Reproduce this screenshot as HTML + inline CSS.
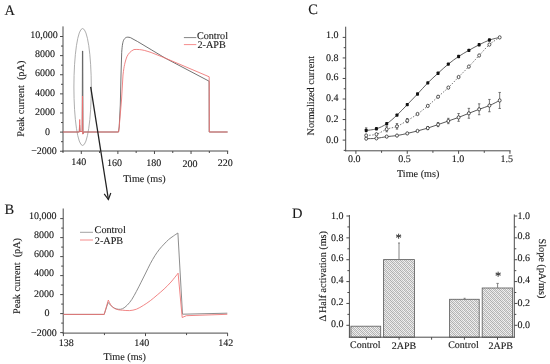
<!DOCTYPE html>
<html><head><meta charset="utf-8"><style>
html,body{margin:0;padding:0;background:#fff;}
svg{display:block;filter:blur(0.3px);}
text{font-family:"Liberation Serif", serif;fill:#1a1a1a;text-rendering:geometricPrecision;stroke:#1a1a1a;stroke-width:0.12px;}
</style></head><body>
<svg width="550" height="364" viewBox="0 0 550 364">
<rect width="550" height="364" fill="#fff"/>
<line x1="63.00" y1="26.40" x2="63.00" y2="151.50" stroke="#4a4a4a" stroke-width="1"/>
<line x1="62.50" y1="151.00" x2="228.20" y2="151.00" stroke="#4a4a4a" stroke-width="1"/>
<line x1="60.00" y1="151.22" x2="63.00" y2="151.22" stroke="#4a4a4a" stroke-width="1"/>
<line x1="61.00" y1="141.66" x2="63.00" y2="141.66" stroke="#4a4a4a" stroke-width="1"/>
<line x1="60.00" y1="132.10" x2="63.00" y2="132.10" stroke="#4a4a4a" stroke-width="1"/>
<line x1="61.00" y1="122.54" x2="63.00" y2="122.54" stroke="#4a4a4a" stroke-width="1"/>
<line x1="60.00" y1="112.98" x2="63.00" y2="112.98" stroke="#4a4a4a" stroke-width="1"/>
<line x1="61.00" y1="103.42" x2="63.00" y2="103.42" stroke="#4a4a4a" stroke-width="1"/>
<line x1="60.00" y1="93.86" x2="63.00" y2="93.86" stroke="#4a4a4a" stroke-width="1"/>
<line x1="61.00" y1="84.30" x2="63.00" y2="84.30" stroke="#4a4a4a" stroke-width="1"/>
<line x1="60.00" y1="74.74" x2="63.00" y2="74.74" stroke="#4a4a4a" stroke-width="1"/>
<line x1="61.00" y1="65.18" x2="63.00" y2="65.18" stroke="#4a4a4a" stroke-width="1"/>
<line x1="60.00" y1="55.62" x2="63.00" y2="55.62" stroke="#4a4a4a" stroke-width="1"/>
<line x1="61.00" y1="46.06" x2="63.00" y2="46.06" stroke="#4a4a4a" stroke-width="1"/>
<line x1="60.00" y1="36.50" x2="63.00" y2="36.50" stroke="#4a4a4a" stroke-width="1"/>
<line x1="63.01" y1="151.00" x2="63.01" y2="153.00" stroke="#4a4a4a" stroke-width="1"/>
<line x1="81.30" y1="151.00" x2="81.30" y2="154.00" stroke="#4a4a4a" stroke-width="1"/>
<line x1="99.59" y1="151.00" x2="99.59" y2="153.00" stroke="#4a4a4a" stroke-width="1"/>
<line x1="117.88" y1="151.00" x2="117.88" y2="154.00" stroke="#4a4a4a" stroke-width="1"/>
<line x1="136.17" y1="151.00" x2="136.17" y2="153.00" stroke="#4a4a4a" stroke-width="1"/>
<line x1="154.46" y1="151.00" x2="154.46" y2="154.00" stroke="#4a4a4a" stroke-width="1"/>
<line x1="172.75" y1="151.00" x2="172.75" y2="153.00" stroke="#4a4a4a" stroke-width="1"/>
<line x1="191.04" y1="151.00" x2="191.04" y2="154.00" stroke="#4a4a4a" stroke-width="1"/>
<line x1="209.33" y1="151.00" x2="209.33" y2="153.00" stroke="#4a4a4a" stroke-width="1"/>
<line x1="227.62" y1="151.00" x2="227.62" y2="154.00" stroke="#4a4a4a" stroke-width="1"/>
<text x="30.20" y="37.60" font-size="10" text-anchor="start" >10,000</text>
<text x="35.00" y="56.60" font-size="10" text-anchor="start" >8000</text>
<text x="35.00" y="75.60" font-size="10" text-anchor="start" >6000</text>
<text x="35.00" y="95.70" font-size="10" text-anchor="start" >4000</text>
<text x="35.00" y="115.00" font-size="10" text-anchor="start" >2000</text>
<text x="45.10" y="134.80" font-size="10" text-anchor="start" >0</text>
<text x="31.20" y="154.20" font-size="10" text-anchor="start" >&#8722;2000</text>
<text x="71.20" y="164.60" font-size="10" text-anchor="start" >140</text>
<text x="106.90" y="165.60" font-size="10" text-anchor="start" >160</text>
<text x="146.30" y="166.20" font-size="10" text-anchor="start" >180</text>
<text x="182.50" y="167.00" font-size="10" text-anchor="start" >200</text>
<text x="217.80" y="165.60" font-size="10" text-anchor="start" >220</text>
<text x="123.20" y="181.60" font-size="10.2" text-anchor="start" >Time (ms)</text>
<text transform="translate(23.70,136.70) rotate(-90)" font-size="10.25" text-anchor="start">Peak current&#160;&#160;(pA)</text>
<text x="4.60" y="15.20" font-size="14.5" text-anchor="start" >A</text>
<ellipse cx="82.6" cy="87.0" rx="8.7" ry="58.5" fill="none" stroke="#999" stroke-width="0.8"/>
<path d="M63,132 L79.3,132 L79.6,125 L80,131.5 L82.2,131.5 L82.45,51 L82.75,51 L83,133.8 L83.5,132 L118.5,132 L119.2,127 L120.3,105 L121,75 L121.7,52.5 C122.2,45 122.8,41.5 124,39.5 C125,38 126,37.3 127.2,37.2 C128.5,37.1 129.5,37.3 130.6,37.7 C133,39 135,40.2 137.5,41.5 L151.2,49.7 L165,58 L209.1,81.2 L209.2,132 L227.6,132" fill="none" stroke="#5a5a5a" stroke-width="0.85"/>
<path d="M63,132 L79.3,132 L79.7,119.5 L80.1,131.5 L82.2,131.5 L82.5,96 L82.8,134.2 L83.4,132 L118.6,132 L119.2,127 L121.5,100 L123,75 C123.6,70 124,67 124.6,64.5 C125.4,61 126.2,58.5 127,56.5 C128.5,53.5 130.5,51.2 134,49.5 C138,49.3 141,49.6 144.3,50.4 C147,51.1 149,51.8 151.2,52.5 L165,58 L209.2,76.8 L209.3,132 L227.6,132" fill="none" stroke="#ee7070" stroke-width="0.85"/>
<line x1="183.90" y1="37.60" x2="196.30" y2="37.60" stroke="#777" stroke-width="0.9"/>
<line x1="183.90" y1="44.60" x2="196.30" y2="44.60" stroke="#f48080" stroke-width="0.9"/>
<text x="196.90" y="38.90" font-size="10.2" text-anchor="start" >Control</text>
<text x="197.50" y="48.20" font-size="10.2" text-anchor="start" >2-APB</text>
<path d="M90.7,86.9 L108.4,199.5" stroke="#222" stroke-width="1.3" fill="none"/>
<path d="M104.2,193.8 L108.4,199.5 L110.8,193.0" stroke="#222" stroke-width="1.2" fill="none"/>
<line x1="63.20" y1="208.50" x2="63.20" y2="333.60" stroke="#4a4a4a" stroke-width="1"/>
<line x1="62.70" y1="333.10" x2="227.80" y2="333.10" stroke="#4a4a4a" stroke-width="1"/>
<line x1="60.20" y1="332.60" x2="63.20" y2="332.60" stroke="#4a4a4a" stroke-width="1"/>
<line x1="61.20" y1="323.10" x2="63.20" y2="323.10" stroke="#4a4a4a" stroke-width="1"/>
<line x1="60.20" y1="313.60" x2="63.20" y2="313.60" stroke="#4a4a4a" stroke-width="1"/>
<line x1="61.20" y1="304.10" x2="63.20" y2="304.10" stroke="#4a4a4a" stroke-width="1"/>
<line x1="60.20" y1="294.60" x2="63.20" y2="294.60" stroke="#4a4a4a" stroke-width="1"/>
<line x1="61.20" y1="285.10" x2="63.20" y2="285.10" stroke="#4a4a4a" stroke-width="1"/>
<line x1="60.20" y1="275.60" x2="63.20" y2="275.60" stroke="#4a4a4a" stroke-width="1"/>
<line x1="61.20" y1="266.10" x2="63.20" y2="266.10" stroke="#4a4a4a" stroke-width="1"/>
<line x1="60.20" y1="256.60" x2="63.20" y2="256.60" stroke="#4a4a4a" stroke-width="1"/>
<line x1="61.20" y1="247.10" x2="63.20" y2="247.10" stroke="#4a4a4a" stroke-width="1"/>
<line x1="60.20" y1="237.60" x2="63.20" y2="237.60" stroke="#4a4a4a" stroke-width="1"/>
<line x1="61.20" y1="228.10" x2="63.20" y2="228.10" stroke="#4a4a4a" stroke-width="1"/>
<line x1="60.20" y1="218.60" x2="63.20" y2="218.60" stroke="#4a4a4a" stroke-width="1"/>
<line x1="63.40" y1="333.10" x2="63.40" y2="336.10" stroke="#4a4a4a" stroke-width="1"/>
<line x1="104.45" y1="333.10" x2="104.45" y2="335.10" stroke="#4a4a4a" stroke-width="1"/>
<line x1="145.50" y1="333.10" x2="145.50" y2="336.10" stroke="#4a4a4a" stroke-width="1"/>
<line x1="186.55" y1="333.10" x2="186.55" y2="335.10" stroke="#4a4a4a" stroke-width="1"/>
<line x1="227.60" y1="333.10" x2="227.60" y2="336.10" stroke="#4a4a4a" stroke-width="1"/>
<text x="29.00" y="219.30" font-size="10" text-anchor="start" >10,000</text>
<text x="34.00" y="237.70" font-size="10" text-anchor="start" >8000</text>
<text x="33.90" y="257.10" font-size="10" text-anchor="start" >6000</text>
<text x="33.90" y="276.30" font-size="10" text-anchor="start" >4000</text>
<text x="34.00" y="296.70" font-size="10" text-anchor="start" >2000</text>
<text x="44.60" y="316.10" font-size="10" text-anchor="start" >0</text>
<text x="31.00" y="335.70" font-size="10" text-anchor="start" >&#8722;2000</text>
<text x="58.70" y="345.70" font-size="10" text-anchor="start" >138</text>
<text x="134.30" y="345.70" font-size="10" text-anchor="start" >140</text>
<text x="218.20" y="346.10" font-size="10" text-anchor="start" >142</text>
<text x="103.60" y="359.80" font-size="10.2" text-anchor="start" >Time (ms)</text>
<text transform="translate(19.70,314.00) rotate(-90)" font-size="10.25" text-anchor="start">Peak current&#160;&#160;(pA)</text>
<text x="4.60" y="214.30" font-size="14.5" text-anchor="start" >B</text>
<path d="M63.4,314.4 L104.2,314.4 L108.1,302.4 C108.62,302.97 110.13,304.83 111.20,305.80 C112.27,306.77 113.28,307.62 114.50,308.20 C115.72,308.78 117.15,309.22 118.50,309.30 C119.85,309.38 121.15,309.38 122.60,308.70 C124.05,308.02 125.67,306.73 127.20,305.20 C128.73,303.67 130.27,301.80 131.80,299.50 C133.33,297.20 134.85,294.28 136.40,291.40 C137.95,288.52 139.55,285.27 141.10,282.20 C142.65,279.13 144.17,276.08 145.70,273.00 C147.23,269.92 148.77,266.58 150.30,263.70 C151.83,260.82 153.37,258.12 154.90,255.70 C156.43,253.28 157.97,251.13 159.50,249.20 C161.03,247.27 162.57,245.72 164.10,244.10 C165.63,242.48 167.17,240.83 168.70,239.50 C170.23,238.17 171.77,237.18 173.30,236.10 C174.83,235.02 177.13,233.52 177.90,233.00 L182.5,314.2 L227.3,313.2" fill="none" stroke="#808080" stroke-width="0.9"/>
<path d="M63.4,314.4 L104.2,314.4 L108.3,300.1 C108.78,301.00 110.17,304.12 111.20,305.50 C112.23,306.88 113.28,307.68 114.50,308.40 C115.72,309.12 117.15,309.50 118.50,309.80 C119.85,310.10 120.77,310.07 122.60,310.20 C124.43,310.33 127.20,310.77 129.50,310.60 C131.80,310.43 134.08,310.07 136.40,309.20 C138.72,308.33 141.08,306.82 143.40,305.40 C145.72,303.98 148.00,302.43 150.30,300.70 C152.60,298.97 154.90,296.95 157.20,295.00 C159.50,293.05 161.80,291.17 164.10,289.00 C166.40,286.83 168.67,284.63 171.00,282.00 C173.33,279.37 176.92,274.67 178.10,273.20 L182.2,317.5 L186.4,315.7 L227.3,314.3" fill="none" stroke="#ee7070" stroke-width="0.85"/>
<line x1="80.00" y1="232.30" x2="93.00" y2="232.30" stroke="#999" stroke-width="0.9"/>
<line x1="80.00" y1="240.00" x2="93.00" y2="240.00" stroke="#f48080" stroke-width="0.9"/>
<text x="94.60" y="233.40" font-size="10.2" text-anchor="start" >Control</text>
<text x="94.80" y="244.00" font-size="10.2" text-anchor="start" >2-APB</text>
<line x1="345.70" y1="26.70" x2="345.70" y2="151.30" stroke="#4a4a4a" stroke-width="1"/>
<line x1="345.20" y1="150.80" x2="510.60" y2="150.80" stroke="#4a4a4a" stroke-width="1"/>
<line x1="343.70" y1="150.37" x2="345.70" y2="150.37" stroke="#4a4a4a" stroke-width="1"/>
<line x1="342.70" y1="140.10" x2="345.70" y2="140.10" stroke="#4a4a4a" stroke-width="1"/>
<line x1="343.70" y1="129.83" x2="345.70" y2="129.83" stroke="#4a4a4a" stroke-width="1"/>
<line x1="342.70" y1="119.56" x2="345.70" y2="119.56" stroke="#4a4a4a" stroke-width="1"/>
<line x1="343.70" y1="109.29" x2="345.70" y2="109.29" stroke="#4a4a4a" stroke-width="1"/>
<line x1="342.70" y1="99.02" x2="345.70" y2="99.02" stroke="#4a4a4a" stroke-width="1"/>
<line x1="343.70" y1="88.75" x2="345.70" y2="88.75" stroke="#4a4a4a" stroke-width="1"/>
<line x1="342.70" y1="78.48" x2="345.70" y2="78.48" stroke="#4a4a4a" stroke-width="1"/>
<line x1="343.70" y1="68.21" x2="345.70" y2="68.21" stroke="#4a4a4a" stroke-width="1"/>
<line x1="342.70" y1="57.94" x2="345.70" y2="57.94" stroke="#4a4a4a" stroke-width="1"/>
<line x1="343.70" y1="47.67" x2="345.70" y2="47.67" stroke="#4a4a4a" stroke-width="1"/>
<line x1="342.70" y1="37.40" x2="345.70" y2="37.40" stroke="#4a4a4a" stroke-width="1"/>
<line x1="355.90" y1="150.80" x2="355.90" y2="153.80" stroke="#4a4a4a" stroke-width="1"/>
<line x1="381.57" y1="150.80" x2="381.57" y2="152.80" stroke="#4a4a4a" stroke-width="1"/>
<line x1="407.25" y1="150.80" x2="407.25" y2="153.80" stroke="#4a4a4a" stroke-width="1"/>
<line x1="432.92" y1="150.80" x2="432.92" y2="152.80" stroke="#4a4a4a" stroke-width="1"/>
<line x1="458.60" y1="150.80" x2="458.60" y2="153.80" stroke="#4a4a4a" stroke-width="1"/>
<line x1="484.27" y1="150.80" x2="484.27" y2="152.80" stroke="#4a4a4a" stroke-width="1"/>
<line x1="509.95" y1="150.80" x2="509.95" y2="153.80" stroke="#4a4a4a" stroke-width="1"/>
<text x="326.00" y="38.30" font-size="10" text-anchor="start" >1.0</text>
<text x="326.00" y="60.90" font-size="10" text-anchor="start" >0.8</text>
<text x="326.00" y="79.90" font-size="10" text-anchor="start" >0.6</text>
<text x="326.00" y="101.20" font-size="10" text-anchor="start" >0.4</text>
<text x="326.00" y="122.00" font-size="10" text-anchor="start" >0.2</text>
<text x="326.00" y="142.60" font-size="10" text-anchor="start" >0.0</text>
<text x="354.30" y="161.60" font-size="10" text-anchor="middle" >0.0</text>
<text x="404.40" y="161.60" font-size="10" text-anchor="middle" >0.5</text>
<text x="458.10" y="161.60" font-size="10" text-anchor="middle" >1.0</text>
<text x="506.80" y="161.60" font-size="10" text-anchor="middle" >1.5</text>
<text x="397.00" y="176.80" font-size="10.2" text-anchor="start" >Time (ms)</text>
<text transform="translate(314.00,135.40) rotate(-90)" font-size="10.2" text-anchor="start">Normalized current</text>
<text x="308.30" y="13.60" font-size="14.5" text-anchor="start" >C</text>
<path d="M366.17,130.45 C367.88,130.17 373.02,129.92 376.44,128.80 C379.86,127.69 383.29,126.05 386.71,123.77 C390.13,121.49 393.56,118.33 396.98,115.14 C400.40,111.96 403.83,108.19 407.25,104.67 C410.67,101.14 414.10,97.62 417.52,93.99 C420.94,90.36 424.37,86.35 427.79,82.90 C431.21,79.44 434.64,76.37 438.06,73.24 C441.48,70.11 444.91,66.89 448.33,64.10 C451.75,61.31 455.18,58.80 458.60,56.50 C462.02,54.21 465.45,52.29 468.87,50.34 C472.29,48.39 475.72,46.51 479.14,44.79 C482.56,43.08 485.99,41.30 489.41,40.07 C492.83,38.84 497.97,37.85 499.68,37.40" fill="none" stroke="#3a3a3a" stroke-width="0.8"/>
<path d="M366.17,135.48 C367.88,135.27 373.02,135.29 376.44,134.25 C379.86,133.20 383.29,130.53 386.71,129.21 C390.13,127.90 393.56,127.78 396.98,126.34 C400.40,124.90 403.83,122.64 407.25,120.59 C410.67,118.53 414.10,116.46 417.52,114.01 C420.94,111.57 424.37,108.78 427.79,105.90 C431.21,103.03 434.64,99.81 438.06,96.76 C441.48,93.71 444.91,90.91 448.33,87.62 C451.75,84.33 455.18,80.55 458.60,77.04 C462.02,73.53 465.45,70.16 468.87,66.57 C472.29,62.97 475.72,59.14 479.14,55.48 C482.56,51.81 485.99,47.60 489.41,44.59 C492.83,41.58 497.97,38.60 499.68,37.40" fill="none" stroke="#555" stroke-width="0.8" stroke-dasharray="1.5,1.5"/>
<path d="M366.17,138.66 C367.88,138.61 373.02,138.70 376.44,138.35 C379.86,138.01 383.29,137.07 386.71,136.61 C390.13,136.15 393.56,136.11 396.98,135.58 C400.40,135.05 403.83,134.19 407.25,133.42 C410.67,132.65 414.10,131.85 417.52,130.96 C420.94,130.07 424.37,129.15 427.79,128.08 C431.21,127.02 434.64,125.77 438.06,124.59 C441.48,123.41 444.91,122.20 448.33,121.00 C451.75,119.80 455.18,118.69 458.60,117.40 C462.02,116.12 465.45,114.65 468.87,113.30 C472.29,111.94 475.72,110.57 479.14,109.29 C482.56,108.01 485.99,107.06 489.41,105.59 C492.83,104.12 497.97,101.31 499.68,100.46" fill="none" stroke="#444" stroke-width="0.9"/>
<line x1="427.79" y1="126.54" x2="427.79" y2="129.62" stroke="#555" stroke-width="0.8"/>
<line x1="426.59" y1="126.54" x2="428.99" y2="126.54" stroke="#555" stroke-width="0.8"/>
<line x1="426.59" y1="129.62" x2="428.99" y2="129.62" stroke="#555" stroke-width="0.8"/>
<line x1="438.06" y1="122.54" x2="438.06" y2="126.65" stroke="#555" stroke-width="0.8"/>
<line x1="436.86" y1="122.54" x2="439.26" y2="122.54" stroke="#555" stroke-width="0.8"/>
<line x1="436.86" y1="126.65" x2="439.26" y2="126.65" stroke="#555" stroke-width="0.8"/>
<line x1="448.33" y1="118.33" x2="448.33" y2="123.67" stroke="#555" stroke-width="0.8"/>
<line x1="447.13" y1="118.33" x2="449.53" y2="118.33" stroke="#555" stroke-width="0.8"/>
<line x1="447.13" y1="123.67" x2="449.53" y2="123.67" stroke="#555" stroke-width="0.8"/>
<line x1="458.60" y1="113.50" x2="458.60" y2="121.31" stroke="#555" stroke-width="0.8"/>
<line x1="457.40" y1="113.50" x2="459.80" y2="113.50" stroke="#555" stroke-width="0.8"/>
<line x1="457.40" y1="121.31" x2="459.80" y2="121.31" stroke="#555" stroke-width="0.8"/>
<line x1="468.87" y1="108.37" x2="468.87" y2="118.22" stroke="#555" stroke-width="0.8"/>
<line x1="467.67" y1="108.37" x2="470.07" y2="108.37" stroke="#555" stroke-width="0.8"/>
<line x1="467.67" y1="118.22" x2="470.07" y2="118.22" stroke="#555" stroke-width="0.8"/>
<line x1="479.14" y1="103.85" x2="479.14" y2="114.73" stroke="#555" stroke-width="0.8"/>
<line x1="477.94" y1="103.85" x2="480.34" y2="103.85" stroke="#555" stroke-width="0.8"/>
<line x1="477.94" y1="114.73" x2="480.34" y2="114.73" stroke="#555" stroke-width="0.8"/>
<line x1="489.41" y1="99.43" x2="489.41" y2="111.75" stroke="#555" stroke-width="0.8"/>
<line x1="488.21" y1="99.43" x2="490.61" y2="99.43" stroke="#555" stroke-width="0.8"/>
<line x1="488.21" y1="111.75" x2="490.61" y2="111.75" stroke="#555" stroke-width="0.8"/>
<line x1="499.68" y1="92.45" x2="499.68" y2="108.47" stroke="#555" stroke-width="0.8"/>
<line x1="498.48" y1="92.45" x2="500.88" y2="92.45" stroke="#555" stroke-width="0.8"/>
<line x1="498.48" y1="108.47" x2="500.88" y2="108.47" stroke="#555" stroke-width="0.8"/>
<line x1="386.71" y1="126.65" x2="386.71" y2="131.78" stroke="#555" stroke-width="0.8"/>
<line x1="385.51" y1="126.65" x2="387.91" y2="126.65" stroke="#555" stroke-width="0.8"/>
<line x1="385.51" y1="131.78" x2="387.91" y2="131.78" stroke="#555" stroke-width="0.8"/>
<line x1="396.98" y1="123.57" x2="396.98" y2="129.11" stroke="#555" stroke-width="0.8"/>
<line x1="395.78" y1="123.57" x2="398.18" y2="123.57" stroke="#555" stroke-width="0.8"/>
<line x1="395.78" y1="129.11" x2="398.18" y2="129.11" stroke="#555" stroke-width="0.8"/>
<line x1="407.25" y1="118.53" x2="407.25" y2="122.64" stroke="#555" stroke-width="0.8"/>
<line x1="406.05" y1="118.53" x2="408.45" y2="118.53" stroke="#555" stroke-width="0.8"/>
<line x1="406.05" y1="122.64" x2="408.45" y2="122.64" stroke="#555" stroke-width="0.8"/>
<line x1="366.17" y1="127.85" x2="366.17" y2="130.45" stroke="#555" stroke-width="0.8"/>
<line x1="364.97" y1="127.85" x2="367.37" y2="127.85" stroke="#555" stroke-width="0.8"/>
<ellipse cx="366.17" cy="138.66" rx="1.45" ry="1.65" fill="#fff" stroke="#2a2a2a" stroke-width="0.8"/>
<ellipse cx="376.44" cy="138.35" rx="1.45" ry="1.65" fill="#fff" stroke="#2a2a2a" stroke-width="0.8"/>
<ellipse cx="386.71" cy="136.61" rx="1.45" ry="1.65" fill="#fff" stroke="#2a2a2a" stroke-width="0.8"/>
<ellipse cx="396.98" cy="135.58" rx="1.45" ry="1.65" fill="#fff" stroke="#2a2a2a" stroke-width="0.8"/>
<ellipse cx="407.25" cy="133.42" rx="1.45" ry="1.65" fill="#fff" stroke="#2a2a2a" stroke-width="0.8"/>
<ellipse cx="417.52" cy="130.96" rx="1.45" ry="1.65" fill="#fff" stroke="#2a2a2a" stroke-width="0.8"/>
<ellipse cx="427.79" cy="128.08" rx="1.45" ry="1.65" fill="#fff" stroke="#2a2a2a" stroke-width="0.8"/>
<ellipse cx="438.06" cy="124.59" rx="1.45" ry="1.65" fill="#fff" stroke="#2a2a2a" stroke-width="0.8"/>
<ellipse cx="448.33" cy="121.00" rx="1.45" ry="1.65" fill="#fff" stroke="#2a2a2a" stroke-width="0.8"/>
<ellipse cx="458.60" cy="117.40" rx="1.45" ry="1.65" fill="#fff" stroke="#2a2a2a" stroke-width="0.8"/>
<ellipse cx="468.87" cy="113.30" rx="1.45" ry="1.65" fill="#fff" stroke="#2a2a2a" stroke-width="0.8"/>
<ellipse cx="479.14" cy="109.29" rx="1.45" ry="1.65" fill="#fff" stroke="#2a2a2a" stroke-width="0.8"/>
<ellipse cx="489.41" cy="105.59" rx="1.45" ry="1.65" fill="#fff" stroke="#2a2a2a" stroke-width="0.8"/>
<ellipse cx="499.68" cy="100.46" rx="1.45" ry="1.65" fill="#fff" stroke="#2a2a2a" stroke-width="0.8"/>
<ellipse cx="366.17" cy="135.48" rx="1.45" ry="1.65" fill="#fff" stroke="#2a2a2a" stroke-width="0.8"/>
<ellipse cx="376.44" cy="134.25" rx="1.45" ry="1.65" fill="#fff" stroke="#2a2a2a" stroke-width="0.8"/>
<ellipse cx="386.71" cy="129.21" rx="1.45" ry="1.65" fill="#fff" stroke="#2a2a2a" stroke-width="0.8"/>
<ellipse cx="396.98" cy="126.34" rx="1.45" ry="1.65" fill="#fff" stroke="#2a2a2a" stroke-width="0.8"/>
<ellipse cx="407.25" cy="120.59" rx="1.45" ry="1.65" fill="#fff" stroke="#2a2a2a" stroke-width="0.8"/>
<ellipse cx="417.52" cy="114.01" rx="1.45" ry="1.65" fill="#fff" stroke="#2a2a2a" stroke-width="0.8"/>
<ellipse cx="427.79" cy="105.90" rx="1.45" ry="1.65" fill="#fff" stroke="#2a2a2a" stroke-width="0.8"/>
<ellipse cx="438.06" cy="96.76" rx="1.45" ry="1.65" fill="#fff" stroke="#2a2a2a" stroke-width="0.8"/>
<ellipse cx="448.33" cy="87.62" rx="1.45" ry="1.65" fill="#fff" stroke="#2a2a2a" stroke-width="0.8"/>
<ellipse cx="458.60" cy="77.04" rx="1.45" ry="1.65" fill="#fff" stroke="#2a2a2a" stroke-width="0.8"/>
<ellipse cx="468.87" cy="66.57" rx="1.45" ry="1.65" fill="#fff" stroke="#2a2a2a" stroke-width="0.8"/>
<ellipse cx="479.14" cy="55.48" rx="1.45" ry="1.65" fill="#fff" stroke="#2a2a2a" stroke-width="0.8"/>
<ellipse cx="489.41" cy="44.59" rx="1.45" ry="1.65" fill="#fff" stroke="#2a2a2a" stroke-width="0.8"/>
<ellipse cx="499.68" cy="37.40" rx="1.45" ry="1.65" fill="#fff" stroke="#2a2a2a" stroke-width="0.8"/>
<rect x="364.67" y="128.75" width="3" height="3.4" rx="0.8" fill="#111"/>
<rect x="374.94" y="127.10" width="3" height="3.4" rx="0.8" fill="#111"/>
<rect x="385.21" y="122.07" width="3" height="3.4" rx="0.8" fill="#111"/>
<rect x="395.48" y="113.44" width="3" height="3.4" rx="0.8" fill="#111"/>
<rect x="405.75" y="102.97" width="3" height="3.4" rx="0.8" fill="#111"/>
<rect x="416.02" y="92.29" width="3" height="3.4" rx="0.8" fill="#111"/>
<rect x="426.29" y="81.20" width="3" height="3.4" rx="0.8" fill="#111"/>
<rect x="436.56" y="71.54" width="3" height="3.4" rx="0.8" fill="#111"/>
<rect x="446.83" y="62.40" width="3" height="3.4" rx="0.8" fill="#111"/>
<rect x="457.10" y="54.80" width="3" height="3.4" rx="0.8" fill="#111"/>
<rect x="467.37" y="48.64" width="3" height="3.4" rx="0.8" fill="#111"/>
<rect x="477.64" y="43.09" width="3" height="3.4" rx="0.8" fill="#111"/>
<rect x="487.91" y="38.37" width="3" height="3.4" rx="0.8" fill="#111"/>
<defs><pattern id="ck" width="2" height="2" patternUnits="userSpaceOnUse"><rect width="2" height="2" fill="#f3f3f3"/><rect width="1" height="1" fill="#bdbdbd"/><rect x="1" y="1" width="1" height="1" fill="#bdbdbd"/></pattern><pattern id="dg" width="5" height="5" patternUnits="userSpaceOnUse"><path d="M-1,-1 L6,6 M-1,4 L1,6 M4,-1 L6,1" stroke="#000" stroke-opacity="0.08" stroke-width="1.4"/></pattern></defs>
<rect x="350.90" y="326.20" width="29.80" height="11.00" fill="url(#ck)"/>
<rect x="350.90" y="326.20" width="29.80" height="11.00" fill="url(#dg)" stroke="#606060" stroke-width="0.85"/>
<rect x="383.60" y="259.60" width="30.80" height="77.60" fill="url(#ck)"/>
<rect x="383.60" y="259.60" width="30.80" height="77.60" fill="url(#dg)" stroke="#606060" stroke-width="0.85"/>
<rect x="449.60" y="299.30" width="29.60" height="37.90" fill="url(#ck)"/>
<rect x="449.60" y="299.30" width="29.60" height="37.90" fill="url(#dg)" stroke="#606060" stroke-width="0.85"/>
<rect x="482.20" y="288.00" width="30.40" height="49.20" fill="url(#ck)"/>
<rect x="482.20" y="288.00" width="30.40" height="49.20" fill="url(#dg)" stroke="#606060" stroke-width="0.85"/>
<line x1="399.00" y1="259.60" x2="399.00" y2="243.00" stroke="#777" stroke-width="0.9"/>
<line x1="398.00" y1="243.00" x2="400.00" y2="243.00" stroke="#777" stroke-width="0.9"/>
<line x1="464.60" y1="299.30" x2="464.60" y2="298.30" stroke="#777" stroke-width="0.9"/>
<line x1="463.60" y1="298.30" x2="465.60" y2="298.30" stroke="#777" stroke-width="0.9"/>
<line x1="497.60" y1="288.00" x2="497.60" y2="283.40" stroke="#777" stroke-width="0.9"/>
<line x1="496.40" y1="283.40" x2="498.80" y2="283.40" stroke="#777" stroke-width="0.9"/>
<text x="398.70" y="241.80" font-size="12.5" text-anchor="middle" >*</text>
<text x="498.20" y="280.40" font-size="12.5" text-anchor="middle" >*</text>
<line x1="349.40" y1="215.00" x2="349.40" y2="337.70" stroke="#4a4a4a" stroke-width="1"/>
<line x1="514.30" y1="214.40" x2="514.30" y2="337.70" stroke="#4a4a4a" stroke-width="1"/>
<line x1="348.90" y1="337.20" x2="514.80" y2="337.20" stroke="#4a4a4a" stroke-width="1"/>
<line x1="346.40" y1="325.30" x2="349.40" y2="325.30" stroke="#4a4a4a" stroke-width="1"/>
<line x1="514.30" y1="325.30" x2="517.30" y2="325.30" stroke="#4a4a4a" stroke-width="1"/>
<line x1="347.40" y1="314.37" x2="349.40" y2="314.37" stroke="#4a4a4a" stroke-width="1"/>
<line x1="514.30" y1="314.37" x2="516.30" y2="314.37" stroke="#4a4a4a" stroke-width="1"/>
<line x1="346.40" y1="303.44" x2="349.40" y2="303.44" stroke="#4a4a4a" stroke-width="1"/>
<line x1="514.30" y1="303.44" x2="517.30" y2="303.44" stroke="#4a4a4a" stroke-width="1"/>
<line x1="347.40" y1="292.51" x2="349.40" y2="292.51" stroke="#4a4a4a" stroke-width="1"/>
<line x1="514.30" y1="292.51" x2="516.30" y2="292.51" stroke="#4a4a4a" stroke-width="1"/>
<line x1="346.40" y1="281.58" x2="349.40" y2="281.58" stroke="#4a4a4a" stroke-width="1"/>
<line x1="514.30" y1="281.58" x2="517.30" y2="281.58" stroke="#4a4a4a" stroke-width="1"/>
<line x1="347.40" y1="270.65" x2="349.40" y2="270.65" stroke="#4a4a4a" stroke-width="1"/>
<line x1="514.30" y1="270.65" x2="516.30" y2="270.65" stroke="#4a4a4a" stroke-width="1"/>
<line x1="346.40" y1="259.72" x2="349.40" y2="259.72" stroke="#4a4a4a" stroke-width="1"/>
<line x1="514.30" y1="259.72" x2="517.30" y2="259.72" stroke="#4a4a4a" stroke-width="1"/>
<line x1="347.40" y1="248.79" x2="349.40" y2="248.79" stroke="#4a4a4a" stroke-width="1"/>
<line x1="514.30" y1="248.79" x2="516.30" y2="248.79" stroke="#4a4a4a" stroke-width="1"/>
<line x1="346.40" y1="237.86" x2="349.40" y2="237.86" stroke="#4a4a4a" stroke-width="1"/>
<line x1="514.30" y1="237.86" x2="517.30" y2="237.86" stroke="#4a4a4a" stroke-width="1"/>
<line x1="347.40" y1="226.93" x2="349.40" y2="226.93" stroke="#4a4a4a" stroke-width="1"/>
<line x1="514.30" y1="226.93" x2="516.30" y2="226.93" stroke="#4a4a4a" stroke-width="1"/>
<line x1="346.40" y1="216.00" x2="349.40" y2="216.00" stroke="#4a4a4a" stroke-width="1"/>
<line x1="514.30" y1="216.00" x2="517.30" y2="216.00" stroke="#4a4a4a" stroke-width="1"/>
<line x1="366.40" y1="337.20" x2="366.40" y2="339.70" stroke="#4a4a4a" stroke-width="1"/>
<line x1="399.10" y1="337.20" x2="399.10" y2="339.70" stroke="#4a4a4a" stroke-width="1"/>
<line x1="431.60" y1="337.20" x2="431.60" y2="339.70" stroke="#4a4a4a" stroke-width="1"/>
<line x1="464.40" y1="337.20" x2="464.40" y2="339.70" stroke="#4a4a4a" stroke-width="1"/>
<line x1="497.50" y1="337.20" x2="497.50" y2="339.70" stroke="#4a4a4a" stroke-width="1"/>
<text x="331.00" y="219.00" font-size="10" text-anchor="start" >1.0</text>
<text x="517.60" y="219.00" font-size="10" text-anchor="start" >1.0</text>
<text x="331.00" y="241.40" font-size="10" text-anchor="start" >0.8</text>
<text x="517.60" y="239.00" font-size="10" text-anchor="start" >0.8</text>
<text x="331.00" y="260.80" font-size="10" text-anchor="start" >0.6</text>
<text x="517.60" y="260.80" font-size="10" text-anchor="start" >0.6</text>
<text x="331.00" y="282.80" font-size="10" text-anchor="start" >0.4</text>
<text x="517.60" y="283.30" font-size="10" text-anchor="start" >0.4</text>
<text x="331.00" y="304.90" font-size="10" text-anchor="start" >0.2</text>
<text x="517.60" y="305.80" font-size="10" text-anchor="start" >0.2</text>
<text x="331.00" y="326.80" font-size="10" text-anchor="start" >0.0</text>
<text x="517.60" y="327.50" font-size="10" text-anchor="start" >0.0</text>
<text x="350.00" y="347.50" font-size="10" text-anchor="start" >Control</text>
<text x="391.80" y="349.00" font-size="10" text-anchor="start" >2APB</text>
<text x="448.20" y="347.70" font-size="10" text-anchor="start" >Control</text>
<text x="488.50" y="348.60" font-size="10" text-anchor="start" >2APB</text>
<text transform="translate(326.20,321.60) rotate(-90)" font-size="10.2" text-anchor="start">&#916; Half activation (ms)</text>
<text transform="translate(539.30,238.60) rotate(90)" font-size="10.2" text-anchor="start">Slope (pA/ms)</text>
<text x="291.90" y="218.40" font-size="14.5" text-anchor="start" >D</text>
</svg>
</body></html>
